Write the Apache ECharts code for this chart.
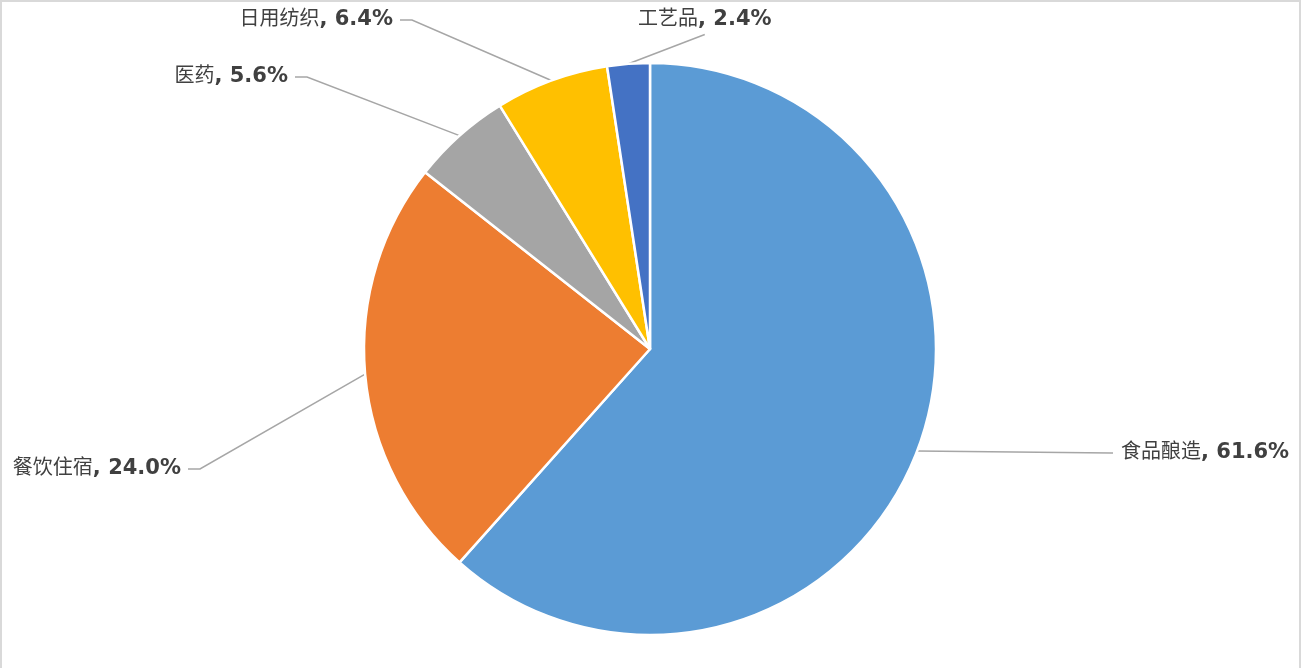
<!DOCTYPE html>
<html>
<head>
<meta charset="utf-8">
<script src="https://cdn.jsdelivr.net/npm/echarts@6/dist/echarts.min.js"></script>
<style>
html,body{margin:0;padding:0;background:#fff;overflow:hidden;}
#chart{position:absolute;left:0;top:0;width:1301px;height:668px;}
#frame{position:absolute;left:0;top:0;width:1297px;height:700px;border:2px solid #d9d9d9;pointer-events:none;}
</style>
</head>
<body>
<div id="chart"></div>
<div id="frame"></div>
<script>
const categories = ['食品酿造', '餐饮住宿', '医药', '日用纺织', '工艺品'];
const values = [61.6, 24.0, 5.6, 6.4, 2.4];
const colors = ['#5B9BD5', '#ED7D31', '#A5A5A5', '#FFC000', '#4472C4'];
// label placement (anchor x, middle y, alignment, leader style)
const labelPos = [
  {x: 1121, y: 453, align: 'left', guide: 'side'},
  {x: 181, y: 469, align: 'right', guide: 'side'},
  {x: 288, y: 77, align: 'right', guide: 'side'},
  {x: 393, y: 20, align: 'right', guide: 'side'},
  {x: 638, y: 20, align: 'left', guide: 'bottom'}
];
const CX = 650, CY = 349, R = 286;

const total = values.reduce((a, b) => a + b, 0);
const midAngles = [];
{
  let acc = 0;
  values.forEach(v => { midAngles.push((acc + v / 2) / total * 2 * Math.PI); acc += v; });
}

const chart = echarts.init(document.getElementById('chart'), null, {renderer: 'canvas'});
chart.setOption({
  animation: false,
  series: [{
    type: 'pie',
    center: [CX, CY],
    radius: R,
    startAngle: 90,
    clockwise: true,
    data: categories.map((c, i) => ({name: c, value: values[i], itemStyle: {color: colors[i]}})),
    itemStyle: {borderColor: '#fff', borderWidth: 2.5},
    label: {
      show: true,
      formatter: p => `{n|${p.name}}{v|, ${p.value.toFixed(1)}%}`,
      rich: {
        n: {fontFamily: '"DejaVu Sans","Noto Sans CJK SC"', fontSize: 20, color: '#404040'},
        v: {fontFamily: '"DejaVu Sans","Noto Sans CJK SC"', fontSize: 21, fontWeight: 'bold', color: '#404040'}
      }
    },
    labelLine: {show: true, length: 10, length2: 10, lineStyle: {color: '#a6a6a6', width: 1.5}},
    labelLayout: function (params) {
      const i = params.dataIndex;
      const p = labelPos[i];
      const w = params.labelRect.width, h = params.labelRect.height;
      const a = midAngles[i];
      const start = [CX + R * Math.sin(a), CY - R * Math.cos(a)];
      let pts;
      if (p.guide === 'bottom') {
        const end = [p.x + w / 2, p.y + h / 2 + 4];
        pts = [start, end, end];
      } else if (p.align === 'left') {
        const end = [p.x - 8, p.y];
        pts = [start, [end[0] - 2, p.y], end];
      } else {
        const end = [p.x + 7, p.y];
        pts = [start, [end[0] + 12, p.y], end];
      }
      return {x: p.x, y: p.y, align: p.align, verticalAlign: 'middle', labelLinePoints: pts};
    }
  }]
});
</script>
</body>
</html>
